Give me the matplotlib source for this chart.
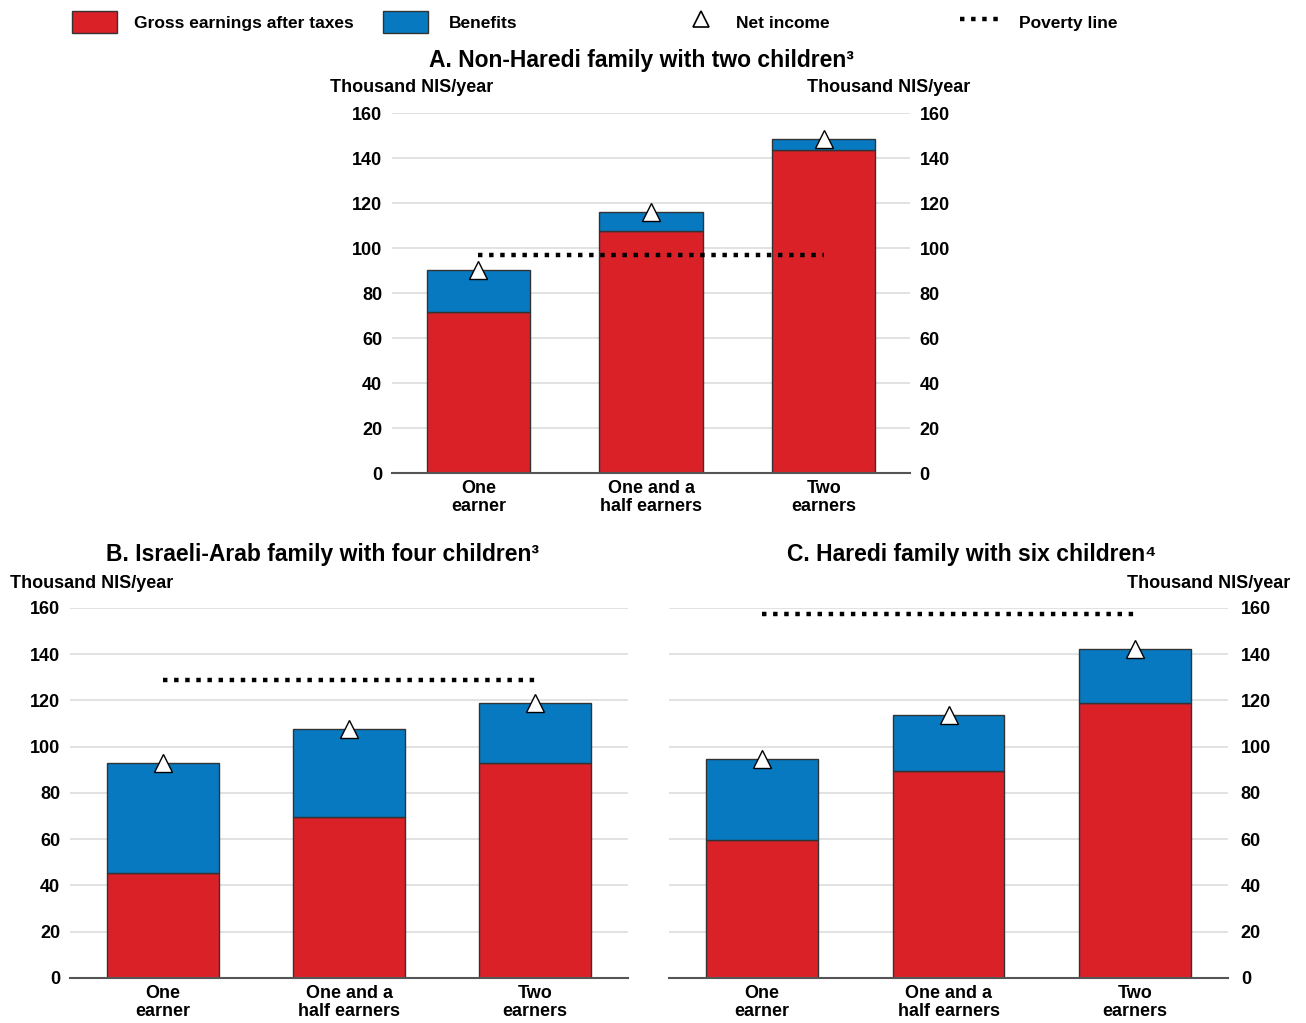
import matplotlib
matplotlib.use("Agg")
import matplotlib.pyplot as plt
from matplotlib.patches import Patch
from matplotlib.lines import Line2D

plt.rcParams['font.family'] = ['Liberation Sans', 'DejaVu Sans']
plt.rcParams['font.weight'] = 'bold'

categories = ["One\nearner", "One and a\nhalf earners", "Two\nearners"]

# panel A: non-Haredi family, two children
earnings_a = [71.5, 107.5, 143.5]
benefits_a = [18.8, 8.3, 4.8]
net_a = [90.3, 115.8, 148.3]
poverty_a = 97.0

# panel B: Israeli-Arab family, four children
earnings_b = [45.3, 69.8, 92.8]
benefits_b = [47.5, 37.8, 26.3]
net_b = [92.8, 107.6, 119.1]
poverty_b = 128.7

# panel C: Haredi family, six children
earnings_c = [59.7, 89.5, 119.1]
benefits_c = [34.9, 24.4, 23.3]
net_c = [94.6, 113.9, 142.4]
poverty_c = 157.5

yticks = [0, 20, 40, 60, 80, 100, 120, 140, 160]

RED = "#DA2128"
BLUE = "#0679C0"
EDGE = "#333333"
GRID = "#DDDDDD"
FS = 13


def draw_panel(ax, earn, ben, net, pov, left=True, right=False):
    x = list(range(len(categories)))
    ax.set_axisbelow(True)
    ax.bar(x, earn, width=0.6, color=RED, edgecolor=EDGE, linewidth=1)
    ax.bar(x, ben, bottom=earn, width=0.6, color=BLUE, edgecolor=EDGE, linewidth=1)
    ax.plot([x[0], x[-1]], [pov, pov], color="black", lw=3.2,
            ls=(0, (1.0, 1.5)), dash_capstyle="butt")
    ax.plot(x, net, ls="none", marker="^", ms=13, mfc="white", mec="black",
            mew=1, zorder=5)
    ax.set_xlim(-0.5, 2.5)
    ax.set_ylim(0, 160)
    ax.set_yticks(yticks)
    ax.set_xticks(x)
    ax.set_xticklabels(categories, fontsize=FS, linespacing=1.05)
    ax.grid(axis="y", color=GRID, lw=1.2)
    for s in ["left", "right", "top"]:
        ax.spines[s].set_visible(False)
    ax.spines["bottom"].set_color("#555555")
    ax.spines["bottom"].set_linewidth(1.5)
    ax.tick_params(axis="y", length=0, labelsize=FS, pad=7,
                   labelleft=left, labelright=right)
    ax.tick_params(axis="x", length=0, labelsize=FS, pad=5)


fig = plt.figure(figsize=(13.06, 10.23), dpi=100)

ax_a = fig.add_axes([0.3002, 0.5376, 0.3966, 0.3519])
draw_panel(ax_a, earnings_a, benefits_a, net_a, poverty_a, left=True, right=True)

ax_b = fig.add_axes([0.0536, 0.0440, 0.4273, 0.3617])
draw_panel(ax_b, earnings_b, benefits_b, net_b, poverty_b, left=True, right=False)

ax_c = fig.add_axes([0.5121, 0.0440, 0.4284, 0.3617])
draw_panel(ax_c, earnings_c, benefits_c, net_c, poverty_c, left=False, right=True)
ax_c.tick_params(axis="y", pad=9)

# titles and unit labels
fig.text(0.491, 0.9404, "A. Non-Haredi family with two children³", ha="center",
         va="center", fontsize=16.5, fontweight="bold")
fig.text(0.2466, 0.4575, "B. Israeli-Arab family with four children³", ha="center",
         va="center", fontsize=16.5, fontweight="bold")
fig.text(0.7443, 0.4575, "C. Haredi family with six children⁴", ha="center",
         va="center", fontsize=16.5, fontweight="bold")
fig.text(0.2527, 0.914, "Thousand NIS/year", ha="left", va="center", fontsize=FS)
fig.text(0.7427, 0.914, "Thousand NIS/year", ha="right", va="center", fontsize=FS)
fig.text(0.0077, 0.4301, "Thousand NIS/year", ha="left", va="center", fontsize=FS)
fig.text(0.9877, 0.4301, "Thousand NIS/year", ha="right", va="center", fontsize=FS)

# legend, one entry at a time so the spacing follows the original
legend_y = 0.9785
entries = [
    (Patch(facecolor=RED, edgecolor=EDGE), "Gross earnings after taxes", 0.0551, 2.6, 1.0),
    (Patch(facecolor=BLUE, edgecolor=EDGE), "Benefits", 0.2933, 2.6, 1.2),
    (Line2D([], [], ls="none", marker="^", ms=11, mfc="white", mec="black", mew=1.2),
     "Net income", 0.530, 1.0, 1.5),
    (Line2D([], [], color="black", lw=3.2, ls=(0, (1.0, 1.5)), dash_capstyle="butt"),
     "Poverty line", 0.735, 2.3, 1.1),
]
for handle, label, xpos, hlen, hpad in entries:
    fig.legend(handles=[handle], labels=[label], loc="center left",
               bbox_to_anchor=(xpos, legend_y), frameon=False, borderpad=0,
               borderaxespad=0, handlelength=hlen, handleheight=1.55,
               handletextpad=hpad, prop={"size": 12.5, "weight": "bold"})

fig.savefig("out.png", dpi=100)
